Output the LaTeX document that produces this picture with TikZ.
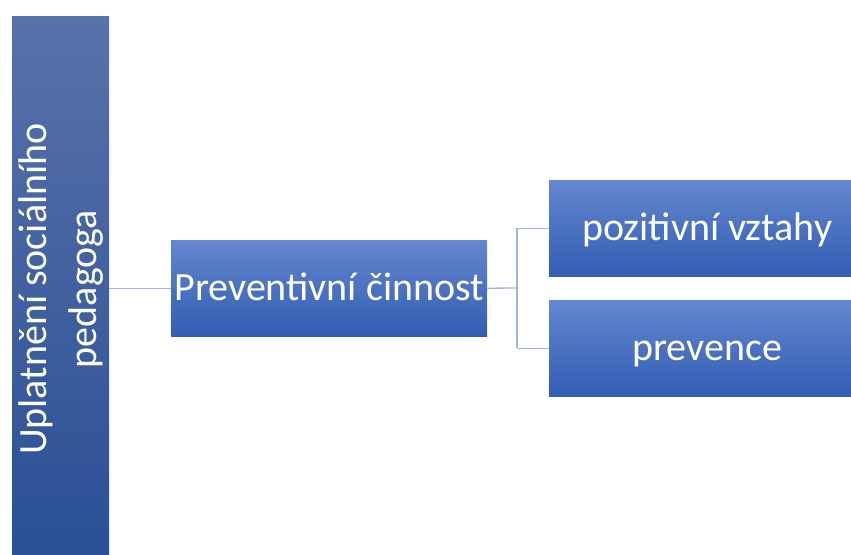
\documentclass[tikz,border=0pt]{standalone}
\usepackage{fontspec}
\setmainfont{Carlito}
\begin{document}
\begin{tikzpicture}[x=1pt,y=-1pt,
  bluebox/.style={rectangle, inner sep=0pt, anchor=north west,
    minimum width=316pt, minimum height=96pt,
    top color=boxtop, bottom color=boxbottom, text=white,
    text height=33pt, text depth=9pt,
    font=\fontsize{40}{49}\selectfont},
  sidebar/.style={rectangle, inner sep=0pt, anchor=north west,
    top color=bartop, bottom color=barbottom},
  link/.style={draw=linkblue, line width=1.3pt}]
\definecolor{boxtop}{HTML}{6487CE}
\definecolor{boxbottom}{HTML}{325DB4}
\definecolor{bartop}{HTML}{5872AA}
\definecolor{barbottom}{HTML}{2A4F95}
\definecolor{linkblue}{HTML}{A2B4DC}
\useasboundingbox (0,0) rectangle (851,554);
\begin{scope}
\clip (0,0) rectangle (851,554);
% left vertical bar with rotated title
\node[sidebar, minimum width=97pt, minimum height=546pt] (bar) at (12,16) {};
\node[text=white, align=center, rotate=90, font=\fontsize{40}{50}\selectfont]
  (title) at (61,289) {Uplatnění sociálního\\pedagoga};
% boxes
\node[bluebox] (prev) at (171,240) {Preventivní činnost};
\node[bluebox] (vztahy) at (549,180) {pozitivní vztahy};
\node[bluebox] (prevence) at (549,300) {prevence};
% connectors
\coordinate (fork) at (517,288);
\draw[link] (bar.east |- prev.west) -- (prev.west);
\draw[link] (prev.east) -- (fork);
\draw[link] (fork |- vztahy.west) -- (fork |- prevence.west);
\draw[link] (fork |- vztahy.west) -- (vztahy.west);
\draw[link] (fork |- prevence.west) -- (prevence.west);
\end{scope}
\end{tikzpicture}
\end{document}
